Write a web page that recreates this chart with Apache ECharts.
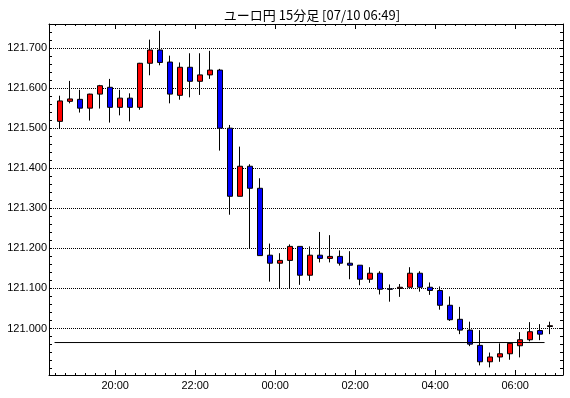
<!DOCTYPE html>
<html>
<head>
<meta charset="utf-8">
<title>ユーロ円 15分足</title>
<script src="https://cdn.jsdelivr.net/npm/echarts@6/dist/echarts.min.js"></script>
<style>
	html, body { margin: 0; padding: 0; background: #fff; }
	#chart { width: 570px; height: 398px; }
</style>
</head>
<body>
<div id="chart"></div>
<script>
	// 15分足、先頭の足は 18:30 開始
	var firstBar = '18:30'
	var barOpen = [
		121.517, 121.567, 121.572, 121.550, 121.585, 121.602, 121.552, 121.575, 121.552, 121.662,
		121.695, 121.665, 121.582, 121.652, 121.617, 121.633, 121.645, 121.500, 121.330, 121.405,
		121.350, 121.183, 121.163, 121.170, 121.205, 121.133, 121.183, 121.175, 121.180, 121.163,
		121.158, 121.123, 121.138, 121.099, 121.100, 121.103, 121.138, 121.103, 121.095, 121.058,
		121.023, 120.996, 120.958, 120.917, 120.929, 120.937, 120.957, 120.972, 120.995, 121.005
	]
	var barClose = [
		121.568, 121.573, 121.550, 121.585, 121.606, 121.552, 121.575, 121.552, 121.662, 121.695,
		121.664, 121.585, 121.652, 121.617, 121.633, 121.645, 121.500, 121.330, 121.405, 121.350,
		121.182, 121.163, 121.170, 121.205, 121.133, 121.183, 121.175, 121.180, 121.163, 121.158,
		121.123, 121.138, 121.098, 121.098, 121.103, 121.138, 121.103, 121.095, 121.058, 121.022,
		120.996, 120.961, 120.917, 120.929, 120.937, 120.963, 120.972, 120.992, 120.986, 121.007
	]
	var barLow = [
		121.500, 121.562, 121.539, 121.519, 121.549, 121.514, 121.532, 121.517, 121.546, 121.632,
		121.657, 121.562, 121.571, 121.577, 121.583, 121.623, 121.444, 121.284, 121.330, 121.200,
		121.182, 121.117, 121.100, 121.100, 121.109, 121.119, 121.165, 121.165, 121.157, 121.123,
		121.108, 121.114, 121.085, 121.067, 121.079, 121.103, 121.092, 121.084, 121.047, 121.019,
		120.986, 120.956, 120.908, 120.903, 120.917, 120.922, 120.928, 120.968, 120.971, 120.986
	]
	var barHigh = [
		121.581, 121.618, 121.596, 121.586, 121.608, 121.623, 121.596, 121.587, 121.663, 121.721,
		121.743, 121.681, 121.664, 121.687, 121.687, 121.693, 121.648, 121.508, 121.454, 121.410,
		121.375, 121.212, 121.188, 121.210, 121.205, 121.205, 121.241, 121.233, 121.195, 121.193,
		121.158, 121.153, 121.143, 121.110, 121.111, 121.153, 121.143, 121.115, 121.105, 121.080,
		121.054, 121.017, 120.996, 120.940, 120.963, 120.963, 120.991, 121.016, 121.011, 121.017
	]
	// 横線
	var linePrice = 120.965
	var lineFrom = '18:29'
	var lineTo = '06:44'

	var xLabels = ['20:00', '22:00', '00:00', '02:00', '04:00', '06:00']
	var yLabels = [121.000, 121.100, 121.200, 121.300, 121.400, 121.500, 121.600, 121.700]
	var titleText = 'ユーロ円 15分足 [07/10 06:49]'

	// 18:00 からの分
	function toMin(t) {
		var p = t.split(':')
		var v = (+p[0]) * 60 + (+p[1]) - 18 * 60
		if (v < 0) v += 1440
		return v
	}
	function toLabel(v) {
		var m = Math.round(v + 18 * 60) % 1440
		var h = Math.floor(m / 60), mm = m % 60
		return (h < 10 ? '0' : '') + h + ':' + (mm < 10 ? '0' : '') + mm
	}

	var xMin = 20.7, xMax = 791.7
	var yMin = 120.884, yMax = 121.760

	var candles = []
	var t0 = toMin(firstBar)
	for (var i = 0; i < barOpen.length; i++) {
		candles.push([t0 + i * 15 + 7.5, barOpen[i], barClose[i], barLow[i], barHigh[i]])
	}

	var minorX = [], majorX = []
	for (var m = 30; m <= 780; m += 15) minorX.push(m)
	xLabels.forEach(function (s) { majorX.push(toMin(s)) })
	var minorY = []
	for (var k = 0; k <= 42; k++) minorY.push(+(120.90 + k * 0.02).toFixed(2))

	var font = { fontFamily: 'Liberation Sans', fontSize: 11, color: '#000' }
	var blackLine = { show: true, onZero: false, lineStyle: { color: '#000', width: 1 } }

	function xAxisOf(pos, ticks, len, labels) {
		return {
			type: 'value', position: pos, min: xMin, max: xMax,
			axisLine: len === 5 ? { show: false } : blackLine,
			axisTick: { show: true, inside: true, length: len, customValues: ticks, lineStyle: { color: '#000' } },
			axisLabel: labels ? Object.assign({ show: true, margin: 5, customValues: majorX, formatter: toLabel }, font) : { show: false },
			splitLine: { show: false }
		}
	}
	function yAxisOf(pos, labels) {
		return {
			type: 'value', position: pos, min: yMin, max: yMax,
			axisLine: blackLine,
			axisTick: { show: true, inside: true, length: 3, customValues: minorY, lineStyle: { color: '#000' } },
			axisLabel: labels ? Object.assign({ show: true, margin: 2, customValues: yLabels, formatter: function (v) { return v.toFixed(3) } }, font) : { show: false },
			splitLine: { show: false }
		}
	}

	var option = {
		animation: false,
		backgroundColor: '#fff',
		title: {
			text: titleText, left: 307, top: 4, textAlign: 'center',
			textStyle: { fontFamily: 'Noto Sans CJK JP', fontSize: 13, fontWeight: 'normal', color: '#000' }
		},
		grid: { left: 49, right: 7, top: 24, bottom: 23 },
		xAxis: [
			xAxisOf('bottom', minorX, 2, false),
			xAxisOf('bottom', majorX, 5, true),
			xAxisOf('top', minorX, 2, false),
			xAxisOf('top', majorX, 5, false)
		],
		yAxis: [yAxisOf('left', true), yAxisOf('right', false)],
		series: [
			{
				type: 'candlestick',
				xAxisIndex: 0, yAxisIndex: 0,
				data: candles,
				encode: { x: 0, y: [1, 2, 3, 4] },
				barWidth: 6,
				itemStyle: {
					color: '#ff0000', color0: '#0000ff',
					borderColor: '#000', borderColor0: '#000', borderColorDoji: '#000',
					borderWidth: 1
				},
				markLine: {
					z: 1, silent: true, symbol: 'none', animation: false,
					label: { show: false },
					lineStyle: { color: '#000', type: 'dotted', width: 1 },
					data: yLabels.map(function (v) { return { yAxis: v } })
				}
			},
			{
				type: 'line', z: 3,
				xAxisIndex: 0, yAxisIndex: 0,
				symbol: 'none',
				lineStyle: { color: '#000', width: 1 },
				data: [[toMin(lineFrom), linePrice], [toMin(lineTo), linePrice]]
			}
		]
	}

	var myChart = echarts.init(document.getElementById('chart'))
	myChart.setOption(option)
</script>
</body>
</html>
